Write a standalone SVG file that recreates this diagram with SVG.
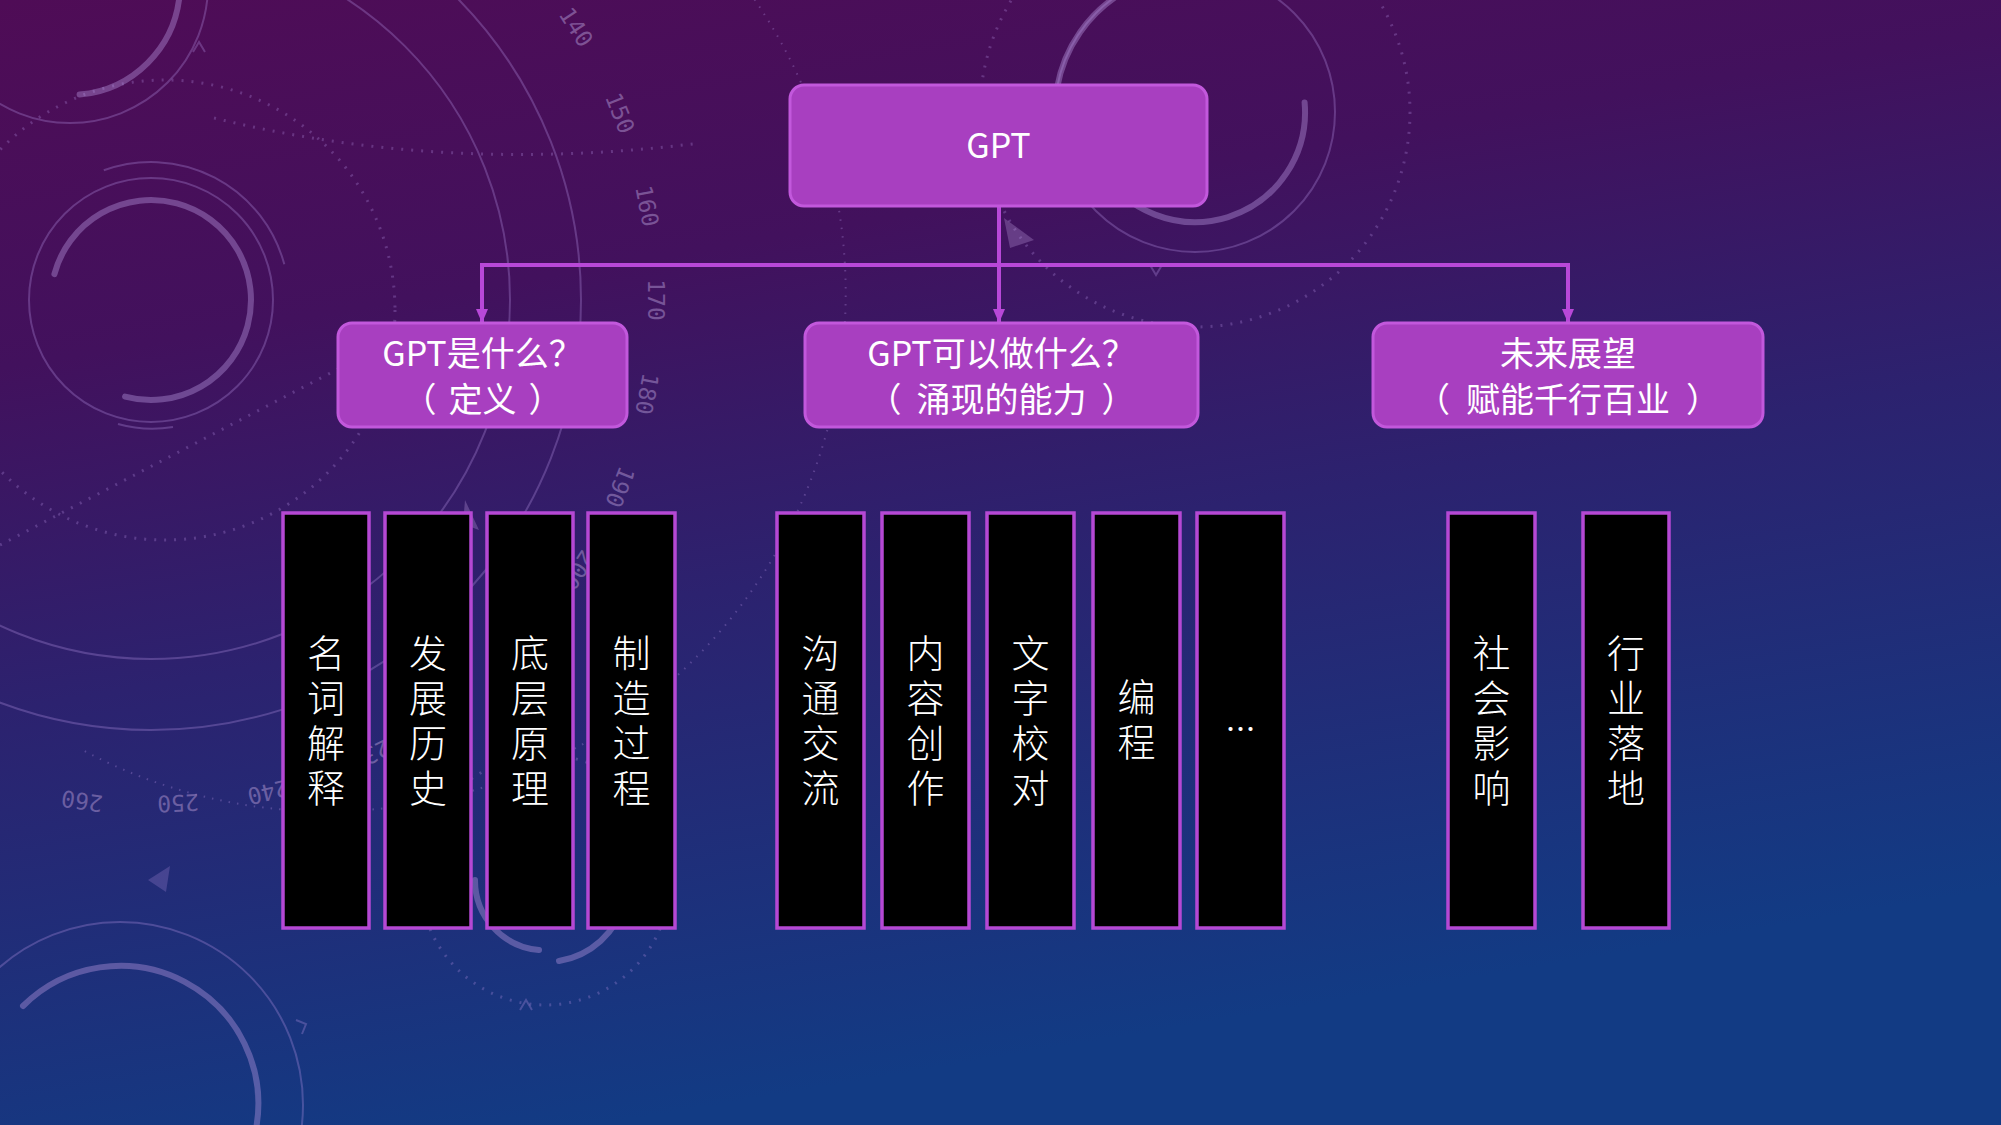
<svg xmlns="http://www.w3.org/2000/svg" width="2001" height="1125" viewBox="0 0 2001 1125">
<defs>
<linearGradient id="bg" x1="0" y1="0" x2="0.3" y2="1">
<stop offset="0" stop-color="#4f0c56"/>
<stop offset="0.3" stop-color="#42115d"/>
<stop offset="0.58" stop-color="#2c226f"/>
<stop offset="1" stop-color="#123b84"/>
</linearGradient>
<marker id="ah" viewBox="0 0 14 12" refX="14" refY="6" markerWidth="14" markerHeight="12" orient="auto" markerUnits="userSpaceOnUse">
<path d="M0,0 L14,6 L0,12 z" fill="#b848d8"/>
</marker>
<style>
.deco{fill:none;stroke:#b290e0;stroke-opacity:.32;stroke-width:2}
.thick{fill:none;stroke:#b898e0;stroke-opacity:.4;stroke-width:6;stroke-linecap:round}
.dot{fill:none;stroke:#b290e0;stroke-opacity:.3;stroke-width:3;stroke-dasharray:2 8}
.num{font-family:"DejaVu Sans Mono",monospace;font-size:23px;fill:#b096d0;fill-opacity:.5;text-anchor:middle}
.hdr{fill:#a83fc0;stroke:#c258dc;stroke-width:3}
.leaf{fill:#000;stroke:#b548d4;stroke-width:3.5}
.t{font-family:"Noto Sans CJK SC","Noto Sans",sans-serif;fill:#fff;text-anchor:middle}
.v{font-size:38px;font-weight:300;writing-mode:vertical-rl;letter-spacing:7px}
.h{font-size:34px}
.conn{fill:none;stroke:#b848d8;stroke-width:4}
</style>
</defs>
<rect width="2001" height="1125" fill="url(#bg)"/>
<g id="background">
<circle class="deco" cx="151" cy="300" r="359"/>
<circle class="deco" cx="151" cy="300" r="430"/>
<path class="deco" d="M 572.7 -163.5 A 455 455 0 0 1 82 749.7" stroke-width="26" stroke-dasharray="1.5 7" stroke-opacity=".22"/>
<circle class="deco" cx="151" cy="300" r="122" stroke-width="1.5"/>
<path class="thick" d="M 54.4 274.1 A 100 100 0 1 1 125.1 396.6"/>
<path class="deco" d="M 103.8 170.3 A 138 138 0 0 1 284.3 264.3"/>
<path class="deco" d="M 173 427 A 128 128 0 0 1 118 424"/>
<path class="deco" d="M205 52 l-6 -10 l-6 10"/>
<circle class="dot" cx="165" cy="310" r="230"/>
<path class="dot" d="M214 118 Q446 175 700 143"/>
<path class="dot" d="M0 545 L340 368"/>
<circle class="deco" cx="70" cy="-15" r="138"/>
<path class="thick" d="M 179.6 -5.4 A 110 110 0 0 1 79.6 94.6"/>
<circle class="deco" cx="1195" cy="112" r="140"/>
<path class="thick" d="M 1304.6 102.4 A 110 110 0 0 1 1099.7 167"/>
<path class="thick" d="M 1057 88 A 140 140 0 0 1 1125 -9"/>
<circle class="dot" cx="1195" cy="112" r="215"/>
<path class="deco" d="M1150 265 l6 10 l6 -10"/>
<circle class="deco" cx="120" cy="1105" r="183"/>
<path class="thick" d="M 23 1006 A 138 138 0 0 1 256 1129"/>
<path class="deco" d="M296 1020 l10 4 l-4 10"/>
<path class="thick" d="M 475 880 A 70 70 0 0 0 539 950"/>
<path class="thick" d="M 598 817 A 82 82 0 0 1 559 961"/>
<circle class="dot" cx="545" cy="880" r="125"/>
<path class="deco" d="M520 1010 l6 -10 l6 10"/>
<path d="M148 880 l22 -14 l-4 26 z" fill="#b290e0" fill-opacity=".25"/>
<path d="M1004 218 l30 22 l-24 8 z" fill="#c0a0e0" fill-opacity=".3"/>
<path d="M465 500 l14 30 l-16 -6 z" fill="#c0a0e0" fill-opacity=".3"/>
<text class="num" transform="translate(576,27) rotate(57.3)" dy=".35em">140</text>
<text class="num" transform="translate(620,113) rotate(68.2)" dy=".35em">150</text>
<text class="num" transform="translate(647,206) rotate(79.1)" dy=".35em">160</text>
<text class="num" transform="translate(656,300) rotate(90)" dy=".35em">170</text>
<text class="num" transform="translate(647,394) rotate(100.9)" dy=".35em">180</text>
<text class="num" transform="translate(620,487) rotate(111.8)" dy=".35em">190</text>
<text class="num" transform="translate(578,570) rotate(122.7)" dy=".35em">200</text>
<text class="num" transform="translate(370,755) rotate(154.2)" dy=".35em">230</text>
<text class="num" transform="translate(268,792) rotate(166.5)" dy=".35em">240</text>
<text class="num" transform="translate(178,803) rotate(177.4)" dy=".35em">250</text>
<text class="num" transform="translate(82,801) rotate(188.3)" dy=".35em">260</text>
</g>
<g id="connectors">
<path class="conn" d="M999 206 V323" marker-end="url(#ah)"/>
<path class="conn" d="M482 265 H1568"/>
<path class="conn" d="M482 263 V323" marker-end="url(#ah)"/>
<path class="conn" d="M1568 263 V323" marker-end="url(#ah)"/>
</g>
<g id="gpt">
<rect class="hdr" x="790" y="85" width="417" height="121" rx="14"/>
<text class="t" x="998.5" y="158" font-size="34">GPT</text>
</g>
<g id="what">
<rect class="hdr" x="338" y="323" width="289" height="104" rx="14"/>
<text class="t h" x="482.5" y="366">GPT是什么？</text>
<text class="t h" x="482.5" y="412">（<tspan dx="12">定义</tspan><tspan dx="12">）</tspan></text>
</g>
<g id="can">
<rect class="hdr" x="805" y="323" width="393" height="104" rx="14"/>
<text class="t h" x="1001.5" y="366">GPT可以做什么？</text>
<text class="t h" x="1001.5" y="412">（<tspan dx="15">涌现的能力</tspan><tspan dx="15">）</tspan></text>
</g>
<g id="future">
<rect class="hdr" x="1373" y="323" width="390" height="104" rx="14"/>
<text class="t h" x="1568" y="366">未来展望</text>
<text class="t h" x="1568" y="412">（<tspan dx="16">赋能千行百业</tspan><tspan dx="16">）</tspan></text>
</g>
<g id="leaf-1">
<rect class="leaf" x="283" y="513" width="86" height="415"/>
<text class="t v" x="326" y="724">名词解释</text>
</g>
<g id="leaf-2">
<rect class="leaf" x="385" y="513" width="86" height="415"/>
<text class="t v" x="428" y="724">发展历史</text>
</g>
<g id="leaf-3">
<rect class="leaf" x="487" y="513" width="86" height="415"/>
<text class="t v" x="530" y="724">底层原理</text>
</g>
<g id="leaf-4">
<rect class="leaf" x="588" y="513" width="87" height="415"/>
<text class="t v" x="631.5" y="724">制造过程</text>
</g>
<g id="leaf-5">
<rect class="leaf" x="777" y="513" width="87" height="415"/>
<text class="t v" x="820.5" y="724">沟通交流</text>
</g>
<g id="leaf-6">
<rect class="leaf" x="882" y="513" width="87" height="415"/>
<text class="t v" x="925.5" y="724">内容创作</text>
</g>
<g id="leaf-7">
<rect class="leaf" x="987" y="513" width="87" height="415"/>
<text class="t v" x="1030.5" y="724">文字校对</text>
</g>
<g id="leaf-8">
<rect class="leaf" x="1093" y="513" width="87" height="415"/>
<text class="t v" x="1136.5" y="723">编程</text>
</g>
<g id="leaf-9">
<rect class="leaf" x="1197" y="513" width="87" height="415"/>
<text class="t" x="1240.5" y="740" font-family="Liberation Sans" font-size="30">…</text>
</g>
<g id="leaf-10">
<rect class="leaf" x="1448" y="513" width="87" height="415"/>
<text class="t v" x="1491.5" y="724">社会影响</text>
</g>
<g id="leaf-11">
<rect class="leaf" x="1583" y="513" width="86" height="415"/>
<text class="t v" x="1626" y="724">行业落地</text>
</g>
</svg>
